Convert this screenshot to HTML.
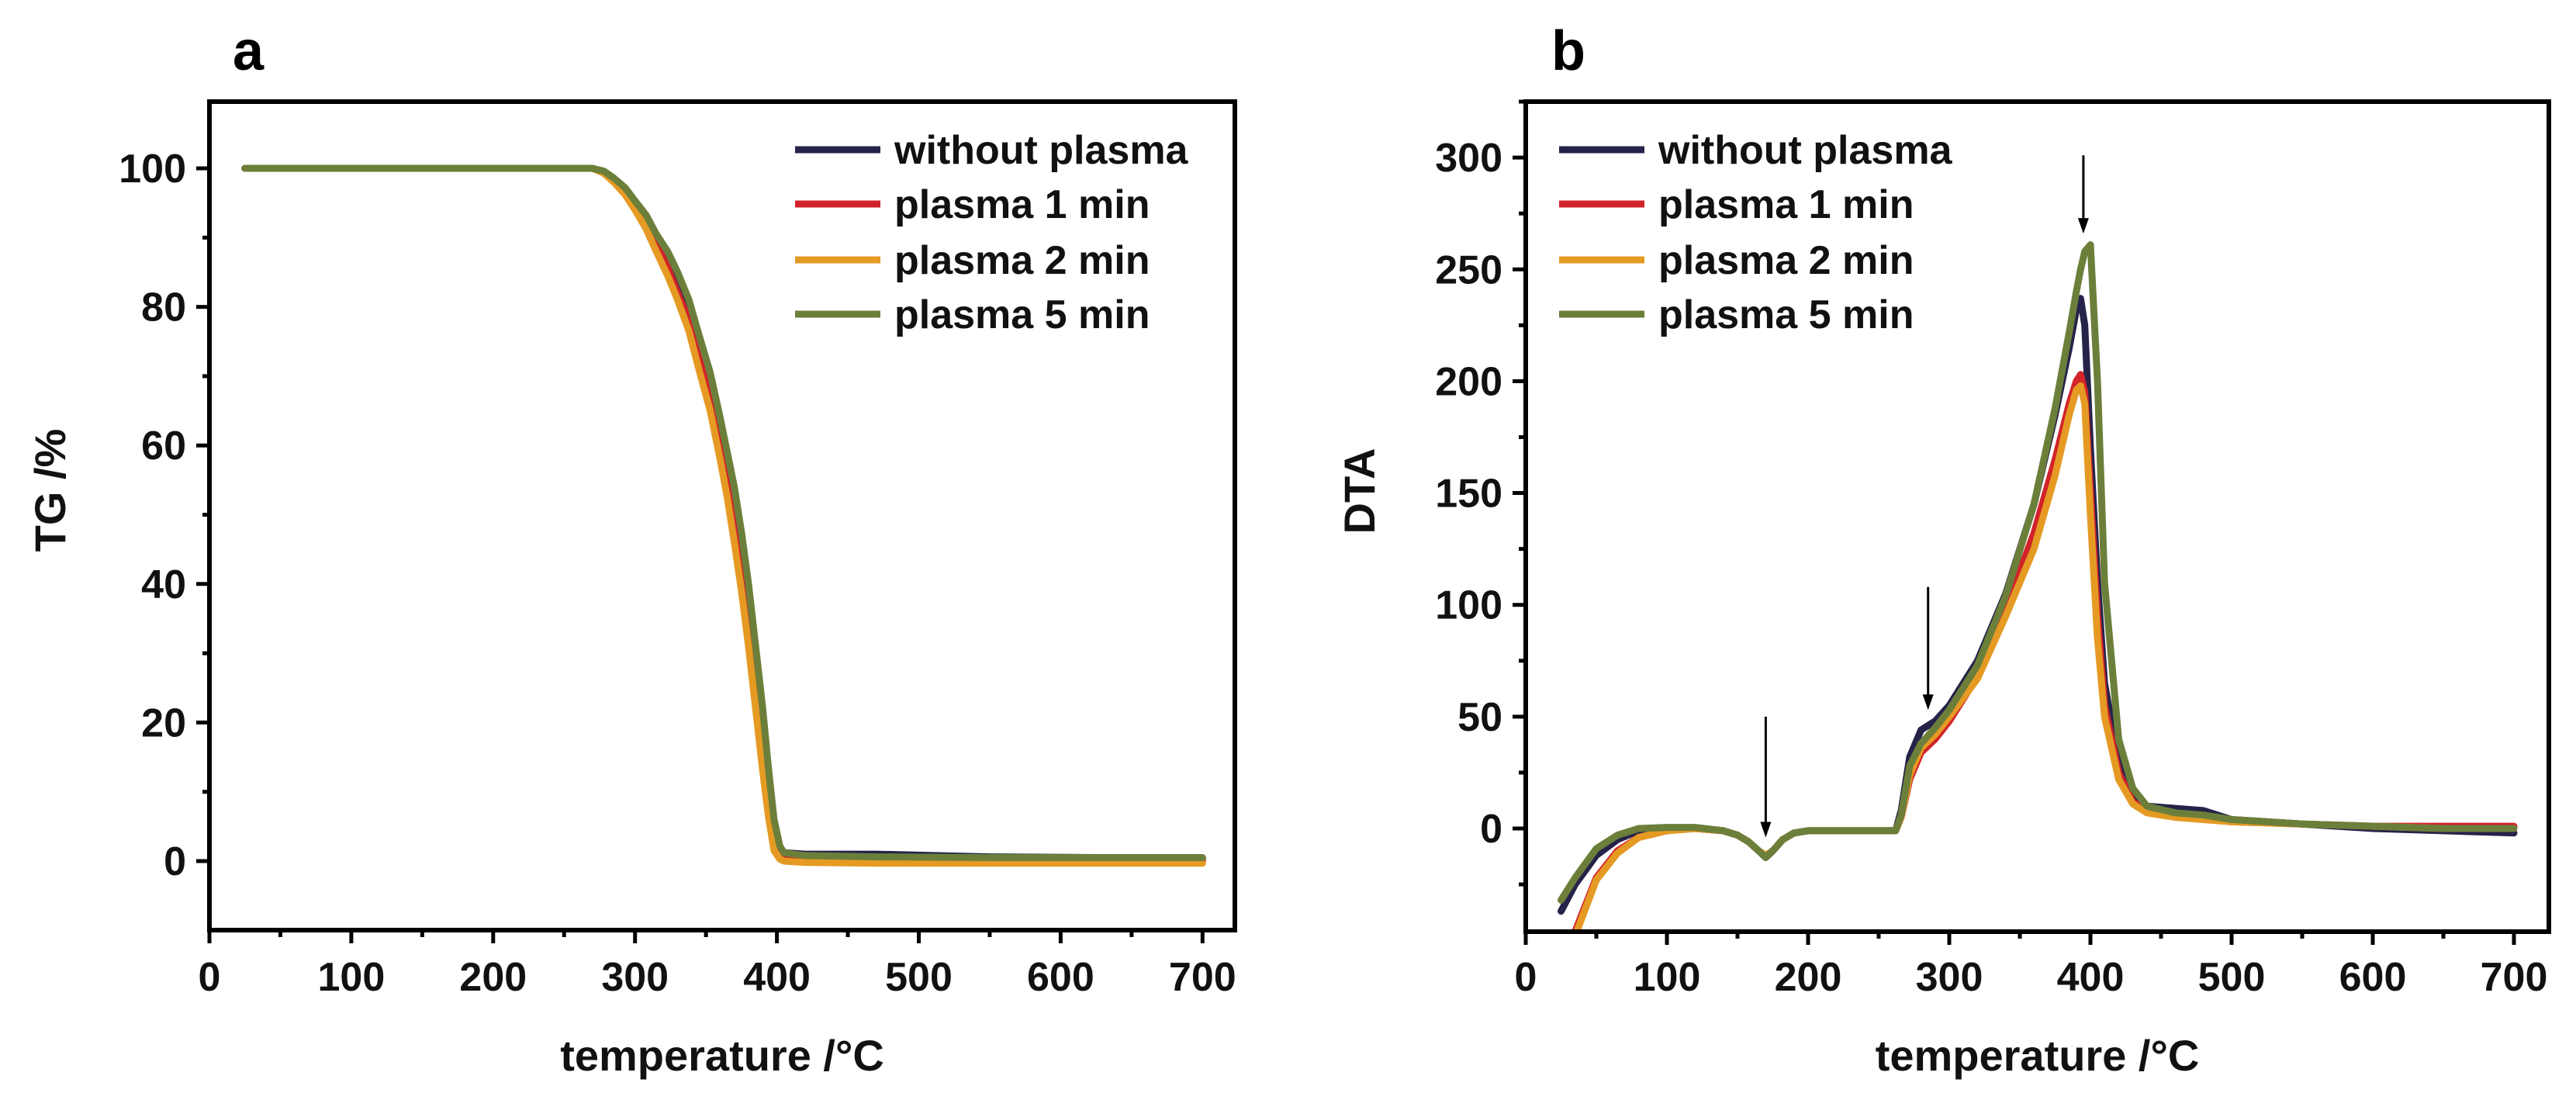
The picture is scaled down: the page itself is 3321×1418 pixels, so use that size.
<!DOCTYPE html>
<html><head><meta charset="utf-8"><style>
html,body{margin:0;padding:0;background:#fff;}
svg{display:block;font-family:"Liberation Sans",sans-serif;font-weight:bold;}
</style></head><body>
<svg id="fig" width="3321" height="1418" viewBox="0 0 3321 1418" xmlns="http://www.w3.org/2000/svg"></svg>
<script>
const seriesNames = ["without plasma","plasma 1 min","plasma 2 min","plasma 5 min"];
const seriesColors = ["#26234a","#d2232a","#e59a23","#6b7f3a"];
// TG panel data (temperature, %)
const tgTemps = [25,100,200,270,278,285,293,300,308,315,323,330,338,345,353,360,365,370,375,380,385,390,394,398,402,405,420,470,550,700];
const tgBlack = [100,100,100,100,99.5,98.5,97,95,92.7,90,87.2,84,80,75,69.5,63,58,52,45.5,38,29,20,12,5,2,1.2,1,1,0.6,0.4];
const tgRed   = [100,100,100,100,99.4,98.3,96.6,94.5,92,89,85.7,82,78,73,67,60,55,48,41,33,24,15,8,2,0.6,0.3,0.2,0.2,0.1,0];
const tgOrange= [100,100,100,100,99.3,98,96.2,94,91.2,88,84.5,81,76.5,71,65,58,52.5,46,39,31,22,13,6.5,1.5,0.3,0,-0.2,-0.3,-0.3,-0.3];
const tgGreen = [100,100,100,100,99.6,98.6,97.2,95.3,93.2,90.5,88,85,81,76,70.5,64,59,54,47.5,40,31,22,13.5,6,2.2,1.2,0.8,0.6,0.5,0.5];
const tgSeries = [tgBlack,tgRed,tgOrange,tgGreen];
const tgTicksY = [0,20,40,60,80,100];
const xTicks = [0,100,200,300,400,500,600,700];
// DTA panel data
const dtaTempsA = [25,35,50,65,80,100,120,140,150,158,165,170,175,182,190,200,230,262,266,272,280,290,300,320,340,360,375,385,390,393,396,400,405,410,420,430,440,460,480,500,550,600,650,700];
const dtaBlack  = [-37,-25,-12,-5,-1,0,0,-1,-3,-6,-10,-13,-10,-5,-2,-1,-1,-1,8,32,44,48,55,75,105,145,185,215,232,237,225,170,110,65,30,15,10,9,8,4,2,0,-1,-2];
const dtaRed    = [-65,-46,-22,-10,-4,-1,0,-1,-3,-6,-10,-12,-10,-5,-2,-1,-1,-1,5,22,34,40,48,68,98,132,165,190,200,203,195,150,95,55,25,12,8,6,5,3,2,1,1,1];
const dtaOrange = [-65,-48,-23,-11,-4,-1,0,-1,-3,-6,-10,-12,-10,-5,-2,-1,-1,-1,5,24,36,42,50,67,95,125,158,185,196,198,190,140,85,50,22,11,7,5,4,3,2,1,0,0];
const dtaGreen  = [-32,-22,-9,-3,0,0.5,0.5,-1,-3,-6,-10,-13,-10,-5,-2,-1,-1,-1,6,28,38,45,53,73,104,145,188,222,240,250,258,261,200,110,40,18,10,7,6,4,2,1,0,0];
const dtaSeries = [dtaBlack,dtaRed,dtaOrange,dtaGreen];
const dtaTicksY = [0,50,100,150,200,250,300];
const arrowTemps = [170,285,395];
const arrowTopVals = [50,108,301];
const arrowTipVals = [-4,53,266];

const NS="http://www.w3.org/2000/svg";
const svg=document.getElementById('fig');
function mk(tag,attrs,parent){const e=document.createElementNS(NS,tag);for(const k in attrs)e.setAttribute(k,attrs[k]);(parent||svg).appendChild(e);return e;}

function panel(cfg){
  const g=mk('g',{});
  
  
  const L=cfg.left,R=cfg.right,T=cfg.top,B=cfg.bottom;
  const xs=v=>cfg.x0+(v)*cfg.xk;
  const ys=v=>cfg.y0-(v)*cfg.yk;
  const clip=mk('clipPath',{id:cfg.name+'-clip'},g);
  mk('rect',{x:L,y:T,width:R-L,height:B-T},clip);
  cfg.series.forEach((s,i)=>{
    const pts=cfg.temps.map((t,j)=>xs(t).toFixed(1)+','+ys(s[j]).toFixed(1)).join(' ');
    const p=mk('polyline',{points:pts,fill:'none',stroke:seriesColors[i],'stroke-width':9,'stroke-linejoin':'round','stroke-linecap':'round','clip-path':`url(#${cfg.name}-clip)`},g);
    
    
  });
  const fr=mk('rect',{x:L,y:T,width:R-L,height:B-T,fill:'none',stroke:'#000','stroke-width':6},g);
  
  
  for(let v=0;v<=cfg.xmaxTick;v+=50){
    const major=v%100===0;
    mk('line',{x1:xs(v),x2:xs(v),y1:B,y2:B+(major?17:9),stroke:'#000','stroke-width':5},g);
  }
  xTicks.forEach(v=>{
    const t=mk('text',{x:xs(v),y:cfg.tickLabelY,'font-size':52,'text-anchor':'middle',fill:'#111'},g);
    t.textContent=v;
    
    
  });
  for(let v=cfg.yMinorStart;ys(v)>=T-1;v+=cfg.yMinor){
    if(ys(v)>B)continue;
    const major=cfg.yTicks.includes(v);
    mk('line',{x1:L,x2:L-(major?17:9),y1:ys(v),y2:ys(v),stroke:'#000','stroke-width':5},g);
  }
  cfg.yTicks.forEach(v=>{
    const t=mk('text',{x:L-30,y:ys(v)+18,'font-size':52,'text-anchor':'end',fill:'#111'},g);
    t.textContent=v;
    
    
  });
  const xt=mk('text',{x:(L+R)/2,y:cfg.xTitleY,'font-size':56,'text-anchor':'middle',fill:'#111'},g);
  xt.textContent='temperature /°C';
  
  
  const yt=mk('text',{x:0,y:0,'font-size':56,'text-anchor':'middle',fill:'#111',transform:`translate(${cfg.yTitleX},${cfg.yTitleY}) rotate(-90)`},g);
  yt.textContent=cfg.yTitle;
  
  
  const pl=mk('text',{x:cfg.labelX,y:90,'font-size':72,fill:'#000'},g);
  pl.textContent=cfg.label;
  
  
  const lg=mk('g',{},g);
  
  
  const ly=[193,263,335,405];
  seriesNames.forEach((n,i)=>{
    const e=mk('g',{},lg);
    
    
    mk('line',{x1:cfg.legX,x2:cfg.legX+110,y1:ly[i],y2:ly[i],stroke:seriesColors[i],'stroke-width':9},e);
    const t=mk('text',{x:cfg.legX+128,y:ly[i]+18,'font-size':52,fill:'#111'},e);
    t.textContent=n;
  });
  return {g,xs,ys};
}

panel({name:'tg-panel',left:270,right:1592,top:131,bottom:1199,x0:270,xk:1.829,y0:1110,yk:8.93,
  temps:tgTemps,series:tgSeries,yTicks:tgTicksY,yMinor:10,yMinorStart:-10,xmaxTick:700,
  tickLabelY:1277,xTitleY:1380,yTitle:'TG /%',yTitleX:84,yTitleY:632,label:'a',labelX:300,legX:1025});

const pb=panel({name:'dta-panel',left:1967,right:3286,top:131,bottom:1201,x0:1967,xk:1.82,y0:1068,yk:2.883,
  temps:dtaTempsA,series:dtaSeries,yTicks:dtaTicksY,yMinor:25,yMinorStart:-25,xmaxTick:700,
  tickLabelY:1277,xTitleY:1380,yTitle:'DTA',yTitleX:1772,yTitleY:633,label:'b',labelX:2000,legX:2010});

arrowTemps.forEach((t,i)=>{
  const x=pb.xs(t),y1=pb.ys(arrowTopVals[i]),y2=pb.ys(arrowTipVals[i]);
  const a=mk('g',{},pb.g);
  
  
  mk('line',{x1:x,x2:x,y1:y1,y2:y2-10,stroke:'#000','stroke-width':3},a);
  mk('polygon',{points:`${x-7},${y2-20} ${x+7},${y2-20} ${x},${y2}`,fill:'#000'},a);
});
</script>
</body></html>
